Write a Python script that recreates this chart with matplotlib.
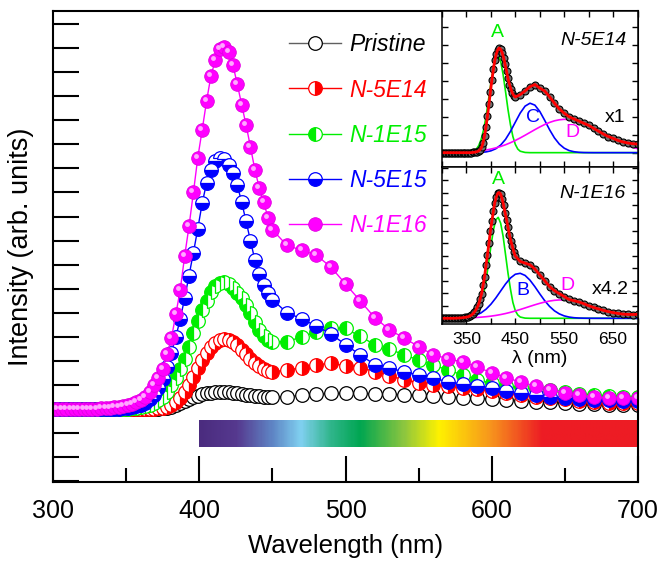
import numpy as np
import matplotlib
matplotlib.use("Agg")
import matplotlib.pyplot as plt
import matplotlib.transforms as mtransforms
from matplotlib.colors import LinearSegmentedColormap
from matplotlib.ticker import MultipleLocator, NullFormatter

plt.rcParams['font.family'] = ['Liberation Sans', 'DejaVu Sans']

# wavelength grid of the spectra (nm)
wl = [300, 303, 306, 309, 312, 315, 318, 321, 324, 327, 330, 333, 336, 339, 342, 345, 348,
      351, 354, 357, 360, 363, 366, 369, 372, 375, 378, 381, 384, 387, 390, 393, 396, 399,
      402, 405, 408, 411, 414, 417, 420, 423, 426, 429, 432, 435, 438, 441, 444, 447, 450,
      460, 470, 480, 490, 500, 510, 520, 530, 540, 550, 560, 570, 580, 590, 600, 610, 620,
      630, 640, 650, 660, 670, 680, 690, 700]

pristine = [0] * 24 + [
    0.01, 0.03, 0.06, 0.1, 0.16, 0.24, 0.33, 0.42, 0.5, 0.56, 0.61, 0.65, 0.68, 0.7,
    0.71, 0.71, 0.7, 0.68, 0.66, 0.63, 0.6, 0.57, 0.55, 0.53, 0.51, 0.5, 0.5,
    0.52, 0.57, 0.62, 0.65, 0.66, 0.65, 0.64, 0.62, 0.6, 0.58, 0.55, 0.52, 0.48, 0.45,
    0.42, 0.38, 0.34, 0.3, 0.28, 0.25, 0.22, 0.2, 0.18, 0.17, 0.16]

n_5e14 = [0] * 20 + [
    0.0, 0.01, 0.01, 0.02, 0.03, 0.05, 0.08, 0.15, 0.28, 0.47, 0.72, 1.02, 1.35, 1.7,
    2.02, 2.32, 2.57, 2.75, 2.87, 2.92, 2.88, 2.79, 2.65, 2.47, 2.27, 2.07, 1.9, 1.77,
    1.66, 1.59, 1.55,
    1.62, 1.72, 1.84, 1.9, 1.8, 1.72, 1.56, 1.38, 1.22, 1.1, 1.0, 0.94, 0.88, 0.82,
    0.76, 0.68, 0.6, 0.52, 0.45, 0.4, 0.34, 0.3, 0.27, 0.25, 0.24]

n_1e15 = [0] * 16 + [
    0.01, 0.02, 0.04, 0.06, 0.09, 0.13, 0.19, 0.27, 0.38, 0.52, 0.72, 0.98, 1.3, 1.68,
    2.1, 2.6, 3.15, 3.65, 4.1, 4.5, 4.85, 5.1, 5.24, 5.26, 5.18, 5.03, 4.83, 4.6, 4.32,
    3.98, 3.62, 3.3, 3.05, 2.88, 2.8,
    2.8, 3.0, 3.2, 3.38, 3.35, 3.02, 2.68, 2.5, 2.25, 2.04, 1.83, 1.62, 1.42, 1.22,
    1.07, 0.95, 0.9, 0.84, 0.78, 0.71, 0.64, 0.58, 0.55, 0.52, 0.52]

n_5e15 = [0] * 14 + [
    0.01, 0.02, 0.04, 0.06, 0.09, 0.13, 0.19, 0.27, 0.42, 0.6, 0.88, 1.25, 1.75, 2.35,
    3.0, 3.75, 4.6, 5.55, 6.5, 7.5, 8.55, 9.4, 9.95, 10.3, 10.42, 10.38, 10.15, 9.8,
    9.3, 8.6, 7.8, 7.0, 6.2, 5.6, 5.15, 4.82, 4.55,
    4.0, 3.75, 3.45, 3.12, 2.68, 2.25, 1.85, 1.7, 1.55, 1.42, 1.28, 1.14, 1.04, 0.97,
    0.88, 0.75, 0.66, 0.58, 0.51, 0.46, 0.42, 0.38, 0.36, 0.35, 0.33]

n_1e16 = [0] * 9 + [
    0.01, 0.02, 0.03, 0.04, 0.05, 0.07, 0.09, 0.12, 0.15, 0.2, 0.28, 0.38, 0.52, 0.72,
    0.98, 1.3, 1.68, 2.3, 2.95, 3.95, 4.95, 6.35, 7.6, 9.0, 10.45, 11.6, 12.8, 13.85,
    14.5, 14.95, 15.05, 14.85, 14.3, 13.5, 12.65, 11.8, 10.9, 9.95, 9.2, 8.6, 7.95, 7.45,
    6.8, 6.6, 6.4, 5.9, 5.2, 4.5, 3.8, 3.3, 2.95, 2.6, 2.25, 2.1, 1.95, 1.75, 1.5, 1.3,
    1.12, 0.95, 0.8, 0.68, 0.58, 0.5, 0.47, 0.45, 0.48]

labels = ['Pristine', 'N-5E14', 'N-1E15', 'N-5E15', 'N-1E16']
colors = ['black', '#ff0000', '#00ee00', '#0000ff', '#ff00ff']
text_colors = ['black', '#ff0000', '#00ee00', '#0000ff', '#ff00ff']

# gaussian components of the inset fits
fit_a_nm = [300, 350, 360, 370, 375, 380, 385, 390, 395, 400, 405, 410, 415, 420, 425,
            430, 435, 440, 445, 450, 455, 460, 470, 480, 700]
a_top = [0, 0.002, 0.017, 0.095, 0.196, 0.368, 0.635, 1.0, 1.46, 1.94, 2.36, 2.65, 2.715,
         2.55, 2.18, 1.7, 1.2, 0.78, 0.45, 0.23, 0.1, 0.04, 0.006, 0, 0]
a_bot = [0, 0.01, 0.077, 0.425, 0.871, 1.637, 2.824, 4.467, 6.48, 8.62, 10.515, 11.77,
         12.076, 11.369, 9.814, 7.6, 5.4, 3.5, 1.9, 0.9, 0.4, 0.15, 0.02, 0, 0]

fit_nm = [300, 310, 320, 330, 340, 350, 360, 370, 380, 390, 400, 410, 420, 430, 440, 450,
          460, 470, 480, 490, 500, 510, 520, 530, 540, 550, 560, 570, 580, 590, 600, 610,
          620, 630, 640, 650, 660, 670, 680, 690, 700]
c_top = [0, 0, 0, 0, 0, 0, 0.001, 0.003, 0.008, 0.021, 0.051, 0.109, 0.212, 0.372, 0.592,
         0.85, 1.105, 1.298, 1.379, 1.325, 1.15, 0.903, 0.641, 0.412, 0.239, 0.125, 0.059,
         0.026, 0.01, 0.003, 0.001, 0, 0, 0, 0, 0, 0, 0, 0, 0, 0]
d_top = [0.002, 0.003, 0.005, 0.008, 0.012, 0.018, 0.027, 0.038, 0.054, 0.074, 0.1, 0.133,
         0.173, 0.221, 0.277, 0.341, 0.411, 0.486, 0.564, 0.642, 0.716, 0.785, 0.843, 0.888,
         0.917, 0.93, 0.924, 0.901, 0.862, 0.809, 0.745, 0.672, 0.595, 0.517, 0.441, 0.368,
         0.302, 0.243, 0.192, 0.148, 0.112]
b_bot = [0, 0.003, 0.007, 0.019, 0.043, 0.095, 0.194, 0.369, 0.655, 1.087, 1.682, 2.427,
         3.269, 4.108, 4.818, 5.271, 5.382, 5.127, 4.558, 3.781, 2.926, 2.113, 1.424, 0.895,
         0.526, 0.287, 0.147, 0.07, 0.031, 0.013, 0.005, 0.002, 0, 0, 0, 0, 0, 0, 0, 0, 0]
d_bot = [0.005, 0.008, 0.013, 0.02, 0.03, 0.045, 0.067, 0.097, 0.137, 0.189, 0.258, 0.343,
         0.447, 0.571, 0.714, 0.876, 1.052, 1.239, 1.43, 1.616, 1.789, 1.942, 2.064, 2.15,
         2.194, 2.194, 2.15, 2.064, 1.942, 1.789, 1.616, 1.43, 1.239, 1.052, 0.876, 0.714,
         0.571, 0.447, 0.343, 0.258, 0.189]

# visible spectrum bar
bar_nm = [400, 425, 450, 469, 490, 510, 540, 564, 600, 635, 700]
bar_colors = ['#4b2c7f', '#56398f', '#5f87c6', '#80d0f0', '#2fb58a', '#00a651', '#8cc63f',
              '#fff200', '#f7941d', '#ed1c24', '#ed1c24']

fig = plt.figure(figsize=(6.61, 5.61), dpi=100)
ax = fig.add_axes([0.0802, 0.1408, 0.885, 0.8396])

cmap = LinearSegmentedColormap.from_list(
    'spec', [((n - 400) / 300, c) for n, c in zip(bar_nm, bar_colors)])
ax.imshow(np.linspace(0, 1, 300)[None, :], extent=[400, 700, -1.58, -0.46],
          aspect='auto', cmap=cmap, zorder=1)

data = [pristine, n_5e14, n_1e15, n_5e15, n_1e16]
fills = ['none', 'right', 'left', 'bottom', 'full']
lines = []
for y, c, f, lab in zip(data, colors, fills, labels):
    if f == 'none':
        ln, = ax.plot(wl, y, '-o', color='#606060', lw=1, ms=9.8, mfc='white', mec='black',
                      mew=0.9, label=lab)
    elif f == 'full':
        ln, = ax.plot(wl, y, '-o', color=c, lw=1, ms=9.8, mfc=c, mec='#e000e0',
                      mew=0.6, label=lab)
    else:
        ln, = ax.plot(wl, y, '-o', color=c, lw=1, ms=9.8, mfc=c, mfcalt='white',
                      fillstyle=f, mec=c, mew=0.9, label=lab)
    lines.append(ln)

# little highlight on the magenta spheres
shine = mtransforms.offset_copy(ax.transData, fig=fig, x=-2, y=2, units='dots')
ax.plot(wl, n_1e16, 'o', ms=3.5, mfc='#ffa8ff', mec='none', transform=shine)

ax.set_xlim(300, 700)
ax.set_ylim(-3.03, 16.54)
ax.xaxis.set_major_locator(MultipleLocator(100))
ax.xaxis.set_minor_locator(MultipleLocator(50))
ax.yaxis.set_major_locator(MultipleLocator(1))
ax.yaxis.set_major_formatter(NullFormatter())
ax.tick_params(axis='x', which='major', direction='in', length=19, width=1.5,
               labelsize=18, pad=12)
ax.tick_params(axis='x', which='minor', direction='in', length=10, width=1.5)
ax.tick_params(axis='y', which='major', direction='in', length=19, width=1.5)
for s in ax.spines.values():
    s.set_linewidth(1.5)
ax.set_xlabel('Wavelength (nm)', fontsize=18.5, labelpad=8)
ax.set_ylabel('Intensity (arb. units)', fontsize=19.5, labelpad=10)

leg = ax.legend(handles=lines, loc='upper left', bbox_to_anchor=(0.383, 0.977),
                frameon=False, prop={'family': 'Liberation Sans', 'style': 'italic',
                                     'size': 16.5},
                handlelength=2.3, handletextpad=0.35, labelspacing=0.97, borderpad=0)
for t, c in zip(leg.get_texts(), text_colors):
    t.set_color(c)

# insets
def style_inset(a):
    a.set_facecolor('white')
    a.set_xlim(300, 700)
    a.xaxis.set_major_locator(MultipleLocator(100, offset=50))
    a.xaxis.set_minor_locator(MultipleLocator(50))
    a.yaxis.set_major_formatter(NullFormatter())
    a.tick_params(which='both', direction='in', length=4, width=1, top=True, right=True,
                  labelsize=12.5, pad=6)
    for s in a.spines.values():
        s.set_linewidth(1.1)

ax_t = fig.add_axes([0.6687, 0.7023, 0.2958, 0.2781])
ax_b = fig.add_axes([0.6687, 0.4225, 0.2958, 0.2798])
style_inset(ax_t)
style_inset(ax_b)
ax_t.xaxis.set_major_formatter(NullFormatter())
ax_t.set_ylim(-0.4, 3.95)
ax_t.yaxis.set_major_locator(MultipleLocator(0.5))
ax_b.set_ylim(-0.68, 18.1)
ax_b.yaxis.set_major_locator(MultipleLocator(1.5))

ax_t.plot(fit_a_nm, a_top, color='#00ee00', lw=1.2)
ax_t.plot(fit_nm, c_top, color='#0000ff', lw=1.2)
ax_t.plot(fit_nm, d_top, color='#ff00ff', lw=1.2)
ax_t.plot(wl, n_5e14, 'o', ms=5, mfc='#707070', mec='black', mew=0.8)
ax_t.plot(wl, n_5e14, '-', color='#ff0000', lw=2)

ax_b.plot(fit_a_nm, a_bot, color='#00ee00', lw=1.2)
ax_b.plot(fit_nm, b_bot, color='#0000ff', lw=1.2)
ax_b.plot(fit_nm, d_bot, color='#ff00ff', lw=1.2)
ax_b.plot(wl, n_1e16, 'o', ms=5, mfc='#707070', mec='black', mew=0.8)
ax_b.plot(wl, n_1e16, '-', color='#ff0000', lw=2)

ax_t.text(414, 3.35, 'A', color='#00ee00', fontsize=14, ha='center', va='center')
ax_t.text(486, 0.99, 'C', color='#0000ff', fontsize=14, ha='center', va='center')
ax_t.text(566, 0.55, 'D', color='#ff00ff', fontsize=14, ha='center', va='center')
ax_t.text(654, 0.97, 'x1', color='black', fontsize=14, ha='center', va='center')
ax_t.text(0.946, 0.814, 'N-5E14', style='italic', fontsize=14, ha='right', va='center',
          transform=ax_t.transAxes)

ax_b.text(416, 16.56, 'A', color='#00ee00', fontsize=14, ha='center', va='center')
ax_b.text(465, 3.3, 'B', color='#0000ff', fontsize=14, ha='center', va='center')
ax_b.text(556, 3.87, 'D', color='#ff00ff', fontsize=14, ha='center', va='center')
ax_b.text(644, 3.39, 'x4.2', color='black', fontsize=14, ha='center', va='center')
ax_b.text(0.94, 0.834, 'N-1E16', style='italic', fontsize=14, ha='right', va='center',
          transform=ax_b.transAxes)
ax_b.set_xlabel('λ (nm)', fontsize=14, labelpad=2)

fig.savefig('out.png', dpi=100)
